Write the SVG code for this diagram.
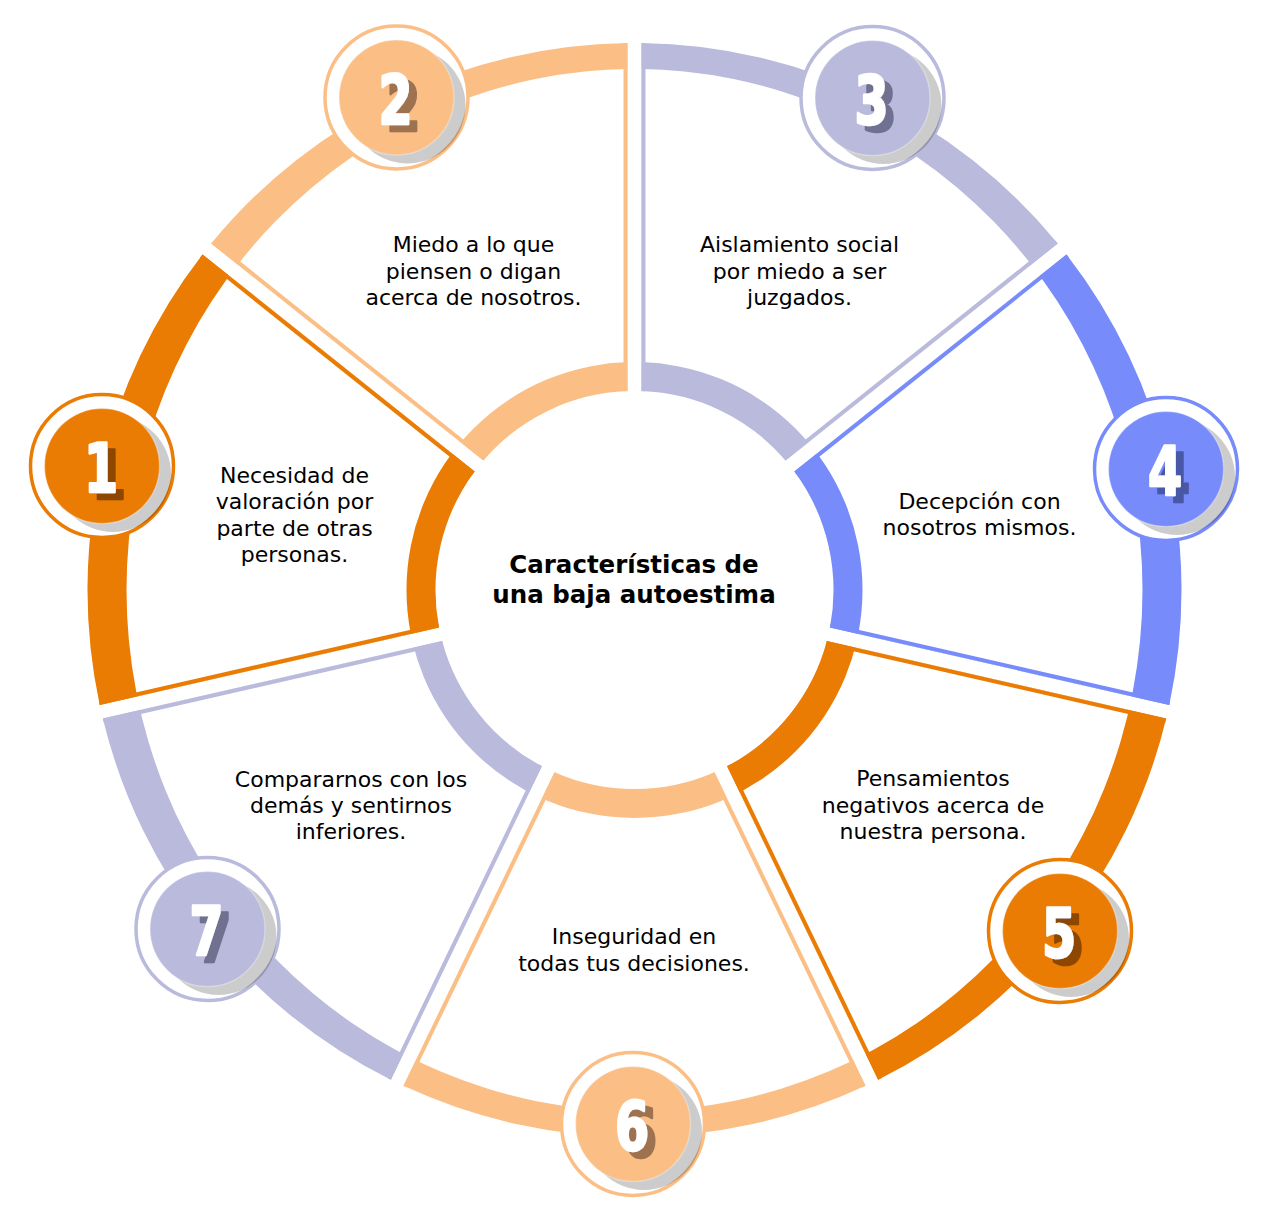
<svg xmlns="http://www.w3.org/2000/svg" width="1268" height="1226" viewBox="0 0 1268 1226">
<style>
.lbl{font-family:"DejaVu Sans",Verdana,sans-serif;font-size:22px;fill:#000;text-anchor:middle}
.ttl{font-family:"DejaVu Sans",Verdana,sans-serif;font-size:24.5px;font-weight:bold;fill:#000;text-anchor:middle}
.num{font-family:"Liberation Sans Narrow","DejaVu Sans Condensed","Liberation Sans",sans-serif;font-size:68px;font-weight:bold;text-anchor:middle;fill:#fff;stroke:#fff;stroke-width:2.5;stroke-linejoin:round}
.edge{fill:none;stroke-width:4}
.ring{fill:#fff;stroke-width:3.5}
.shadow{fill:#000;opacity:0.2}
.disc{stroke:#fff;stroke-opacity:0.3;stroke-width:1.5}
.white{fill:#fff;fill-rule:evenodd}
</style>
<defs>
<path id="sec" d="M -79.982,-182.22 L -231.006,-495.83 A 547 547 0 0 1 231.006,-495.83 L 79.982,-182.22 A 199 199 0 0 0 -79.982,-182.22 Z"/>
<clipPath id="sc"><path d="M -79.982,-182.22 L -231.006,-495.83 A 547 547 0 0 1 231.006,-495.83 L 79.982,-182.22 A 199 199 0 0 0 -79.982,-182.22 Z"/></clipPath>
<path id="edges" d="M -229.19,-496.67 L -78.145,-183.01 M 229.19,-496.67 L 78.145,-183.01"/>
<path id="inner" d="M -508,0 A 508 521 0 1 0 508,0 A 508 521 0 1 0 -508,0 Z M -228,0 A 228 228 0 1 0 228,0 A 228 228 0 1 0 -228,0 Z"/>
<filter id="shO" x="-60%" y="-60%" width="220%" height="220%"><feFlood flood-color="#8D4600"/><feComposite in2="SourceAlpha" operator="in"/><feOffset dx="10" dy="7"/><feMerge><feMergeNode/><feMergeNode in="SourceGraphic"/></feMerge></filter>
<filter id="shL" x="-60%" y="-60%" width="220%" height="220%"><feFlood flood-color="#9E7250"/><feComposite in2="SourceAlpha" operator="in"/><feOffset dx="10" dy="7"/><feMerge><feMergeNode/><feMergeNode in="SourceGraphic"/></feMerge></filter>
<filter id="shV" x="-60%" y="-60%" width="220%" height="220%"><feFlood flood-color="#6F7090"/><feComposite in2="SourceAlpha" operator="in"/><feOffset dx="10" dy="7"/><feMerge><feMergeNode/><feMergeNode in="SourceGraphic"/></feMerge></filter>
<filter id="shB" x="-60%" y="-60%" width="220%" height="220%"><feFlood flood-color="#4A58A6"/><feComposite in2="SourceAlpha" operator="in"/><feOffset dx="10" dy="7"/><feMerge><feMergeNode/><feMergeNode in="SourceGraphic"/></feMerge></filter>
</defs>
<rect width="1268" height="1226" fill="#fff"/>

<g id="seg1">
<g transform="translate(634.5 590) rotate(282.857)">
<use href="#sec" fill="#EA7B03"/>
<g clip-path="url(#sc)"><use href="#inner" class="white" transform="rotate(-282.857)"/></g>
<use href="#edges" class="edge" stroke="#EA7B03"/>
</g>
<g transform="translate(102 466)">
<circle r="71.5" class="ring" stroke="#EA7B03"/>
<circle cx="11" cy="8" r="58" class="shadow"/>
<circle r="57.5" class="disc" fill="#EA7B03"/>
<text class="num" transform="translate(-1 26) scale(0.8 1)" filter="url(#shO)">1</text>
</g>
<text class="lbl" x="294.5" y="483">Necesidad de<tspan x="294.5" dy="26.4">valoración por</tspan><tspan x="294.5" dy="26.4">parte de otras</tspan><tspan x="294.5" dy="26.4">personas.</tspan></text>
</g>

<g id="seg2">
<g transform="translate(634.5 590) rotate(334.286)">
<use href="#sec" fill="#FBBF86"/>
<g clip-path="url(#sc)"><use href="#inner" class="white" transform="rotate(-334.286)"/></g>
<use href="#edges" class="edge" stroke="#FBBF86"/>
</g>
<g transform="translate(396.5 97.5)">
<circle r="71.5" class="ring" stroke="#FBBF86"/>
<circle cx="11" cy="8" r="58" class="shadow"/>
<circle r="57.5" class="disc" fill="#FBBF86"/>
<text class="num" transform="translate(-1 26) scale(0.8 1)" filter="url(#shL)">2</text>
</g>
<text class="lbl" x="473.5" y="252">Miedo a lo que<tspan x="473.5" dy="26.5">piensen o digan</tspan><tspan x="473.5" dy="26.5">acerca de nosotros.</tspan></text>
</g>

<g id="seg3">
<g transform="translate(634.5 590) rotate(25.714)">
<use href="#sec" fill="#B9BADC"/>
<g clip-path="url(#sc)"><use href="#inner" class="white" transform="rotate(-25.714)"/></g>
<use href="#edges" class="edge" stroke="#B9BADC"/>
</g>
<g transform="translate(872.5 98)">
<circle r="71.5" class="ring" stroke="#B9BADC"/>
<circle cx="11" cy="8" r="58" class="shadow"/>
<circle r="57.5" class="disc" fill="#B9BADC"/>
<text class="num" transform="translate(-1 26) scale(0.8 1)" filter="url(#shV)">3</text>
</g>
<text class="lbl" x="799.5" y="252">Aislamiento social<tspan x="799.5" dy="26.5">por miedo a ser</tspan><tspan x="799.5" dy="26.5">juzgados.</tspan></text>
</g>

<g id="seg4">
<g transform="translate(634.5 590) rotate(77.143)">
<use href="#sec" fill="#778BFB"/>
<g clip-path="url(#sc)"><use href="#inner" class="white" transform="rotate(-77.143)"/></g>
<use href="#edges" class="edge" stroke="#778BFB"/>
</g>
<g transform="translate(1166 469)">
<circle r="71.5" class="ring" stroke="#778BFB"/>
<circle cx="11" cy="8" r="58" class="shadow"/>
<circle r="57.5" class="disc" fill="#778BFB"/>
<text class="num" transform="translate(-1 26) scale(0.8 1)" filter="url(#shB)">4</text>
</g>
<text class="lbl" x="979.5" y="508.5">Decepción con<tspan x="979.5" dy="26.5">nosotros mismos.</tspan></text>
</g>

<g id="seg5">
<g transform="translate(634.5 590) rotate(128.571)">
<use href="#sec" fill="#EA7B03"/>
<g clip-path="url(#sc)"><use href="#inner" class="white" transform="rotate(-128.571)"/></g>
<use href="#edges" class="edge" stroke="#EA7B03"/>
</g>
<g transform="translate(1060 931)">
<circle r="71.5" class="ring" stroke="#EA7B03"/>
<circle cx="11" cy="8" r="58" class="shadow"/>
<circle r="57.5" class="disc" fill="#EA7B03"/>
<text class="num" transform="translate(-1 26) scale(0.8 1)" filter="url(#shO)">5</text>
</g>
<text class="lbl" x="933" y="786">Pensamientos<tspan x="933" dy="26.5">negativos acerca de</tspan><tspan x="933" dy="26.5">nuestra persona.</tspan></text>
</g>

<g id="seg6">
<g transform="translate(634.5 590) rotate(180)">
<use href="#sec" fill="#FBBF86"/>
<g clip-path="url(#sc)"><use href="#inner" class="white" transform="rotate(-180)"/></g>
<use href="#edges" class="edge" stroke="#FBBF86"/>
</g>
<g transform="translate(633 1124)">
<circle r="71.5" class="ring" stroke="#FBBF86"/>
<circle cx="11" cy="8" r="58" class="shadow"/>
<circle r="57.5" class="disc" fill="#FBBF86"/>
<text class="num" transform="translate(-1 26) scale(0.8 1)" filter="url(#shL)">6</text>
</g>
<text class="lbl" x="634" y="944">Inseguridad en<tspan x="634" dy="26.5">todas tus decisiones.</tspan></text>
</g>

<g id="seg7">
<g transform="translate(634.5 590) rotate(231.429)">
<use href="#sec" fill="#B9BADC"/>
<g clip-path="url(#sc)"><use href="#inner" class="white" transform="rotate(-231.429)"/></g>
<use href="#edges" class="edge" stroke="#B9BADC"/>
</g>
<g transform="translate(207.5 929)">
<circle r="71.5" class="ring" stroke="#B9BADC"/>
<circle cx="11" cy="8" r="58" class="shadow"/>
<circle r="57.5" class="disc" fill="#B9BADC"/>
<text class="num" transform="translate(-1 26) scale(0.8 1)" filter="url(#shV)">7</text>
</g>
<text class="lbl" x="351" y="787">Compararnos con los<tspan x="351" dy="26">demás y sentirnos</tspan><tspan x="351" dy="26">inferiores.</tspan></text>
</g>

<g id="center">
<text class="ttl" x="634" y="573">Características de<tspan x="634" dy="30">una baja autoestima</tspan></text>
</g>
</svg>
